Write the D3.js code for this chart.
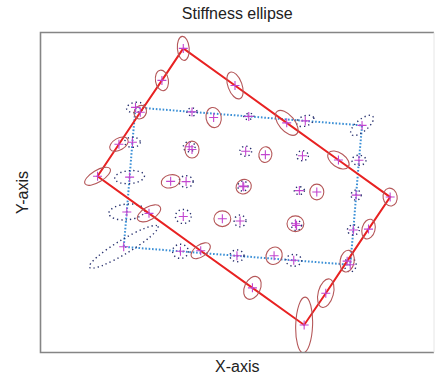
<!DOCTYPE html>
<html>
<head>
<meta charset="utf-8">
<script src="https://cdn.jsdelivr.net/npm/d3@7"></script>
<style>
  html, body { margin: 0; padding: 0; background: #fff; }
  svg { display: block; }
  text { font-family: "Liberation Sans", Arial, sans-serif; fill: #222; }
</style>
</head>
<body>
<svg id="chart" width="435" height="377"></svg>
<script>
// Node grid (5 x 5), listed row by row.
// Deformed configuration: node positions and stiffness ellipses.
const defX = [5.08, 6.92, 8.76, 10.60, 12.44,
              4.32, 6.16, 8.00, 9.83, 11.67,
              3.55, 5.39, 7.23, 9.07, 10.91,
              2.79, 4.63, 6.47, 8.31, 10.15,
              2.03, 3.86, 5.70, 7.54, 9.38];
const defY = [10.82, 9.50, 8.17, 6.85, 5.53,
              9.68, 8.36, 7.04, 5.71, 4.39,
              8.55, 7.22, 5.90, 4.58, 3.25,
              7.41, 6.09, 4.76, 3.44, 2.11,
              6.27, 4.95, 3.62, 2.30, 0.98];
const defMajor = [0.43, 0.50, 0.53, 0.43, 0.32,
                  0.37, 0.36, 0.28, 0.28, 0.36,
                  0.25, 0.30, 0.28, 0.30, 0.39,
                  0.36, 0.34, 0.30, 0.32, 0.52,
                  0.52, 0.46, 0.39, 0.43, 0.99];
const defMinor = [0.21, 0.25, 0.28, 0.25, 0.25,
                  0.23, 0.27, 0.23, 0.25, 0.23,
                  0.21, 0.25, 0.25, 0.28, 0.25,
                  0.21, 0.23, 0.28, 0.28, 0.27,
                  0.21, 0.23, 0.21, 0.28, 0.30];
const defAngle = [95, 110, 130, 145, 100,
                  100, 100, 80, 90, 75,
                  60, 90, 30, 0, 80,
                  30, 15, 0, 60, 75,
                  31, 30, 35, 65, 88];

// Reference configuration: node positions and stiffness ellipses.
const refX = [3.38, 5.39, 7.41, 9.42, 11.44,
              3.27, 5.29, 7.30, 9.32, 11.33,
              3.17, 5.18, 7.20, 9.21, 11.23,
              3.07, 5.08, 7.10, 9.11, 11.13,
              2.96, 4.98, 6.99, 9.01, 11.02];
const refY = [8.72, 8.56, 8.40, 8.24, 8.08,
              7.48, 7.32, 7.16, 7.00, 6.84,
              6.24, 6.08, 5.92, 5.76, 5.60,
              5.00, 4.84, 4.68, 4.52, 4.36,
              3.76, 3.60, 3.44, 3.28, 3.12];
const refMajor = [0.32, 0.18, 0.18, 0.32, 0.50,
                  0.28, 0.21, 0.21, 0.21, 0.25,
                  0.53, 0.25, 0.18, 0.18, 0.18,
                  0.64, 0.28, 0.21, 0.18, 0.21,
                  1.42, 0.28, 0.25, 0.28, 0.25];
const refMinor = [0.18, 0.14, 0.11, 0.18, 0.21,
                  0.18, 0.18, 0.18, 0.18, 0.18,
                  0.23, 0.21, 0.18, 0.14, 0.18,
                  0.28, 0.25, 0.21, 0.18, 0.18,
                  0.25, 0.25, 0.21, 0.21, 0.21];
const refAngle = [10, 0, 10, 20, 40,
                  0, 0, 0, 0, 0,
                  5, 0, 0, 0, 0,
                  5, 0, 0, 0, 0,
                  31, 0, 0, 0, 90];

// Boundary nodes, walked around the grid outline.
const outline = [0, 1, 2, 3, 4, 9, 14, 19, 24, 23, 22, 21, 20, 15, 10, 5, 0];

const titleText = "Stiffness ellipse";
const xLabel = "X-axis";
const yLabel = "Y-axis";

const svg = d3.select("#chart");
const plotLeft = 40.5, plotRight = 434, plotTop = 32.5, plotBottom = 352.5;

const x = d3.scaleLinear().domain([0, 14]).range([plotLeft, plotRight]);
const unit = (plotRight - plotLeft) / 14;
const y = d3.scaleLinear().domain([0, (plotBottom - plotTop) / unit]).range([plotBottom, plotTop]);

const build = (X, Y, A, B, T) => X.map((v, i) => ({ x: v, y: Y[i], a: A[i], b: B[i], t: T[i] }));
const defNodes = build(defX, defY, defMajor, defMinor, defAngle);
const refNodes = build(refX, refY, refMajor, refMinor, refAngle);

svg.append("defs").append("clipPath").attr("id", "plotClip")
  .append("rect").attr("x", plotLeft).attr("y", plotTop)
  .attr("width", plotRight - plotLeft).attr("height", plotBottom - plotTop);

const plot = svg.append("g").attr("clip-path", "url(#plotClip)");

const line = d3.line().x(d => x(d.x)).y(d => y(d.y));

// Reference outline (dotted blue)
plot.append("path")
  .datum(outline.map(i => refNodes[i]))
  .attr("d", line)
  .attr("fill", "none")
  .attr("stroke", "#3a8fd6")
  .attr("stroke-width", 2)
  .attr("stroke-dasharray", "1.6,1.8");

// Reference ellipses (dotted navy)
plot.append("g").selectAll("ellipse")
  .data(refNodes)
  .join("ellipse")
  .attr("transform", d => `translate(${x(d.x)},${y(d.y)}) rotate(${-d.t})`)
  .attr("rx", d => d.a * unit)
  .attr("ry", d => d.b * unit)
  .attr("fill", "none")
  .attr("stroke", "#27306e")
  .attr("stroke-width", 1.4)
  .attr("stroke-dasharray", "1.3,3");

// Deformed outline (solid red)
plot.append("path")
  .datum(outline.map(i => defNodes[i]))
  .attr("d", line)
  .attr("fill", "none")
  .attr("stroke", "#e82222")
  .attr("stroke-width", 2);

// Deformed ellipses (solid brown-red)
plot.append("g").selectAll("ellipse")
  .data(defNodes)
  .join("ellipse")
  .attr("transform", d => `translate(${x(d.x)},${y(d.y)}) rotate(${-d.t})`)
  .attr("rx", d => d.a * unit)
  .attr("ry", d => d.b * unit)
  .attr("fill", "none")
  .attr("stroke", "#b5585a")
  .attr("stroke-width", 1.1);

// Node markers
const plus = "M-4.5,0H4.5M0,-4.5V4.5";
plot.append("g").selectAll("path")
  .data(refNodes.concat(defNodes))
  .join("path")
  .attr("transform", d => `translate(${x(d.x)},${y(d.y)})`)
  .attr("d", plus)
  .attr("fill", "none")
  .attr("stroke", "#c245cf")
  .attr("stroke-width", 1.1);

// Frame: left, top and bottom edges in grey, right edge faint
svg.append("path")
  .attr("d", `M${plotRight},${plotTop}H${plotLeft}V${plotBottom}H${plotRight}`)
  .attr("fill", "none")
  .attr("stroke", "#858585")
  .attr("stroke-width", 1.6);
svg.append("path")
  .attr("d", `M${plotRight},${plotTop}V${plotBottom}`)
  .attr("fill", "none")
  .attr("stroke", "#e6e6e6")
  .attr("stroke-width", 1);

// Labels
svg.append("text")
  .attr("x", (plotLeft + plotRight) / 2).attr("y", 19)
  .attr("text-anchor", "middle")
  .style("font-size", "16px")
  .text(titleText);

svg.append("text")
  .attr("x", (plotLeft + plotRight) / 2).attr("y", 372)
  .attr("text-anchor", "middle")
  .style("font-size", "16px")
  .text(xLabel);

svg.append("text")
  .attr("transform", `translate(28,${(plotTop + plotBottom) / 2}) rotate(-90)`)
  .attr("text-anchor", "middle")
  .style("font-size", "16px")
  .text(yLabel);
</script>
</body>
</html>
